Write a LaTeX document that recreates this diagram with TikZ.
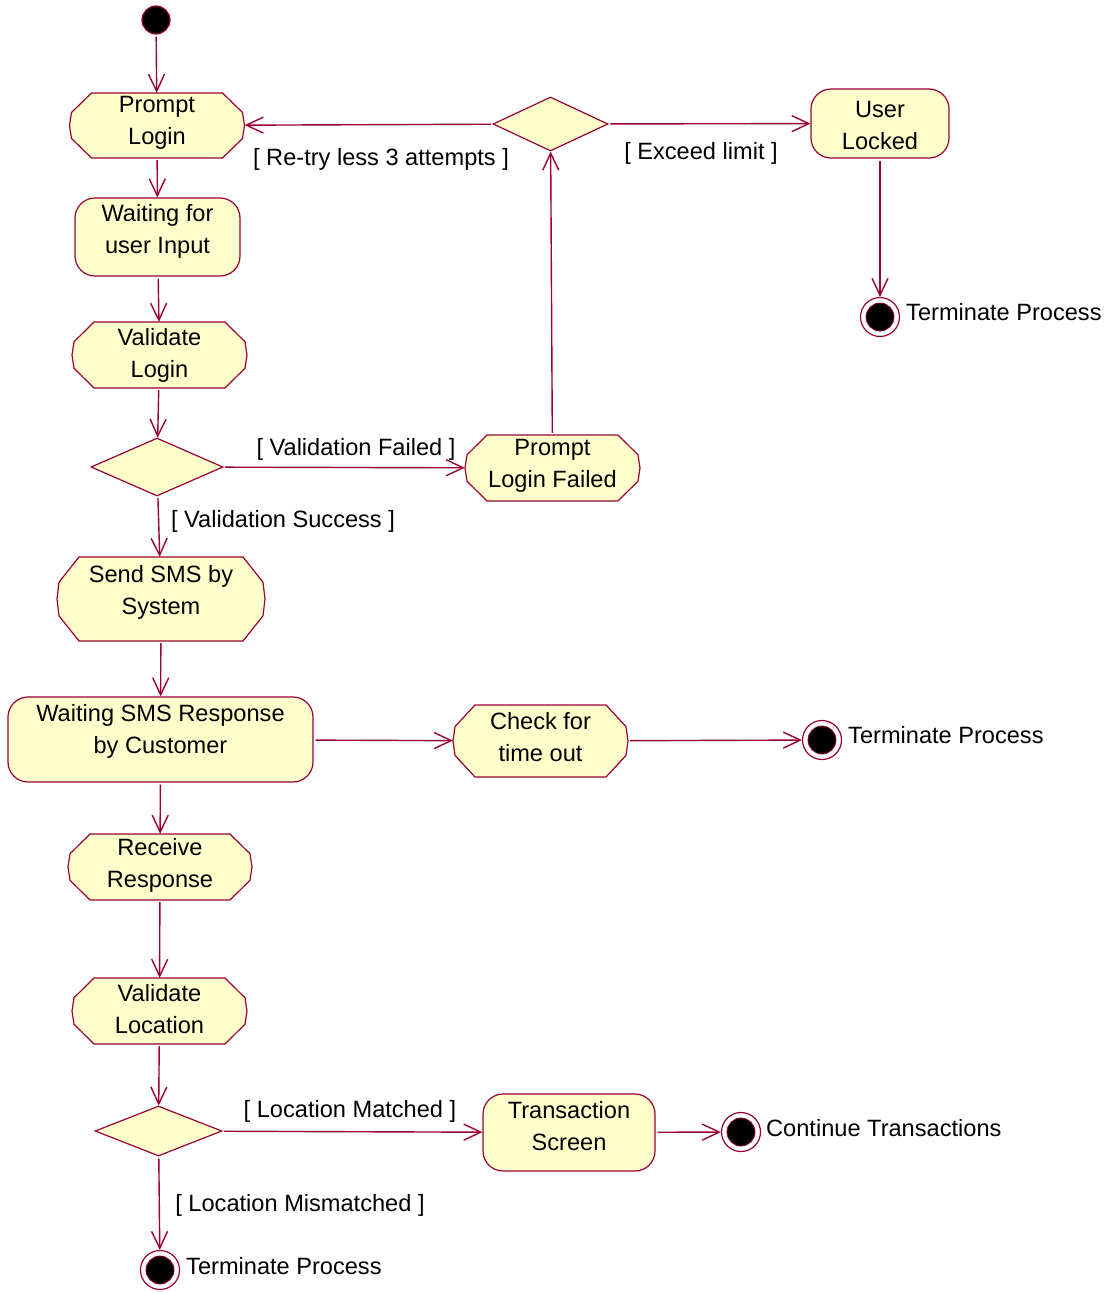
\documentclass[tikz,border=0pt]{standalone}
\usepackage{fontspec}
\setmainfont{Liberation Sans}
\usetikzlibrary{arrows.meta,shapes.geometric,calc}
\definecolor{edge}{RGB}{153,0,51}
\definecolor{actfill}{RGB}{255,255,204}
% chamfered activity: name, cx, cy, w, h, text-y, text
\newcommand\actnode[7]{%
  \path[actline] ({#2-#4/2+22},{#3-#5/2}) -- ({#2+#4/2-22},{#3-#5/2})
     -- ({#2+#4/2-2},{#3-#5/2+0.3*#5}) -- ({#2+#4/2},{#3})
     -- ({#2+#4/2-2},{#3+#5/2-0.3*#5}) -- ({#2+#4/2-22},{#3+#5/2})
     -- ({#2-#4/2+22},{#3+#5/2}) -- ({#2-#4/2+2},{#3+#5/2-0.3*#5})
     -- ({#2-#4/2},{#3}) -- ({#2-#4/2+2},{#3-#5/2+0.3*#5}) -- cycle;
  \node[anch, minimum width=#4, minimum height=#5] (#1) at (#2,#3) {};
  \node[txt] (#1t) at (#2,{#6+2}) {#7};}
% rounded activity: name, cx, cy, w, h, text-y, text
\newcommand\rrnode[7]{%
  \node[rbox, minimum width=#4, minimum height=#5] (#1) at (#2,#3) {};
  \node[txt] (#1t) at (#2,{#6+2}) {#7};}
\begin{document}
\begin{tikzpicture}[x=1pt,y=-1pt,
  actline/.style={draw=edge, fill=actfill, line width=1.2pt},
  anch/.style={rectangle, draw=none, fill=none, inner sep=0},
  rbox/.style={rectangle, rounded corners=20pt, draw=edge, fill=actfill, line width=1.2pt, inner sep=0},
  txt/.style={font=\fontsize{23.6}{32}\selectfont, align=center, inner sep=0},
  lbl/.style={font=\fontsize{23.6}{28}\selectfont, inner sep=0},
  dec/.style={diamond, draw=edge, fill=actfill, line width=1.2pt, inner sep=0},
  startst/.style={circle, draw=edge, fill=black, line width=1.2pt, minimum size=28, inner sep=0},
  endst/.style={circle, draw=edge, fill=white, line width=1.2pt, minimum size=39, inner sep=0},
  flow/.style={draw=edge, line width=1.4pt, shorten <=2pt,
     -{Straight Barb[length=17pt,width=16pt,line width=1.4pt]}}]
\useasboundingbox (0,0) rectangle (1112,1293);

\node[startst] (s) at (156,20) {};
\actnode{pl}{157}{125.5}{175}{65}{121}{Prompt\\Login}
\rrnode{wu}{157.5}{237}{165}{78}{229}{Waiting for\\user Input}
\actnode{vl}{159.5}{355}{175}{66}{353}{Validate\\Login}
\node[dec, minimum width=132, minimum height=58] (d1) at (157,467) {};
\actnode{plf}{552.5}{468}{175}{66}{464}{Prompt\\Login Failed}
\node[dec, minimum width=115, minimum height=54] (d0) at (550.5,124) {};
\rrnode{ul}{880}{123.5}{138}{69}{123}{User\\Locked}
\node[endst] (e1) at (880,317) {};
\fill[black, draw=edge, line width=0.8pt] (e1) circle (14);
\actnode{sms}{161}{599}{208}{84}{590}{Send SMS by\\System}
\rrnode{ws}{160.5}{739.5}{305}{85}{729}{Waiting SMS Response\\by Customer}
\actnode{ct}{540.5}{741}{175}{72}{735}{Check for\\time out}
\node[endst] (e2) at (822,740) {};
\fill[black, draw=edge, line width=0.8pt] (e2) circle (14);
\actnode{rcv}{160}{867}{184}{66}{863}{Receive\\Response}
\actnode{vloc}{159.5}{1011}{175}{66}{1007}{Validate\\Location}
\node[dec, minimum width=127, minimum height=50] (d3) at (158.5,1131) {};
\rrnode{ts}{569}{1132.5}{172}{77}{1124}{Transaction\\Screen}
\node[endst] (e3) at (741,1132) {};
\fill[black, draw=edge, line width=0.8pt] (e3) circle (14);
\node[endst] (e4) at (160,1270) {};
\fill[black, draw=edge, line width=0.8pt] (e4) circle (14);

\draw[flow] (s) -- (pl);
\draw[flow] (pl) -- (wu);
\draw[flow] (wu) -- (vl);
\draw[flow] (vl) -- (d1);
\draw[flow] (d1) -- (plf);
\draw[flow] (d1) -- (sms);
\draw[flow] (plf) -- (d0);
\draw[flow] (d0) -- (pl);
\draw[flow] (d0) -- (ul);
\draw[flow] (ul) -- (e1);
\draw[flow] (sms) -- (ws);
\draw[flow] (ws) -- (ct);
\draw[flow] (ct) -- (e2);
\draw[flow] (ws) -- (rcv);
\draw[flow] (rcv) -- (vloc);
\draw[flow] (vloc) -- (d3);
\draw[flow] (d3) -- (ts);
\draw[flow] (d3) -- (e4);
\draw[flow] (ts) -- (e3);

\node[lbl] (l1) at (381,159) {[ Re-try less 3 attempts ]};
\node[lbl] (l2) at (701,153) {[ Exceed limit ]};
\node[lbl] (l3) at (356,449) {[ Validation Failed ]};
\node[lbl] (l4) at (283,521) {[ Validation Success ]};
\node[lbl] (l5) at (350,1111) {[ Location Matched ]};
\node[lbl] (l6) at (300,1205) {[ Location Mismatched ]};
\node[lbl, anchor=west] (t1) at (906,312) {Terminate Process};
\node[lbl, anchor=west] (t2) at (848,735) {Terminate Process};
\node[lbl, anchor=west] (t3) at (766,1128) {Continue Transactions};
\node[lbl, anchor=west] (t4) at (186,1266) {Terminate Process};
\end{tikzpicture}
\end{document}
